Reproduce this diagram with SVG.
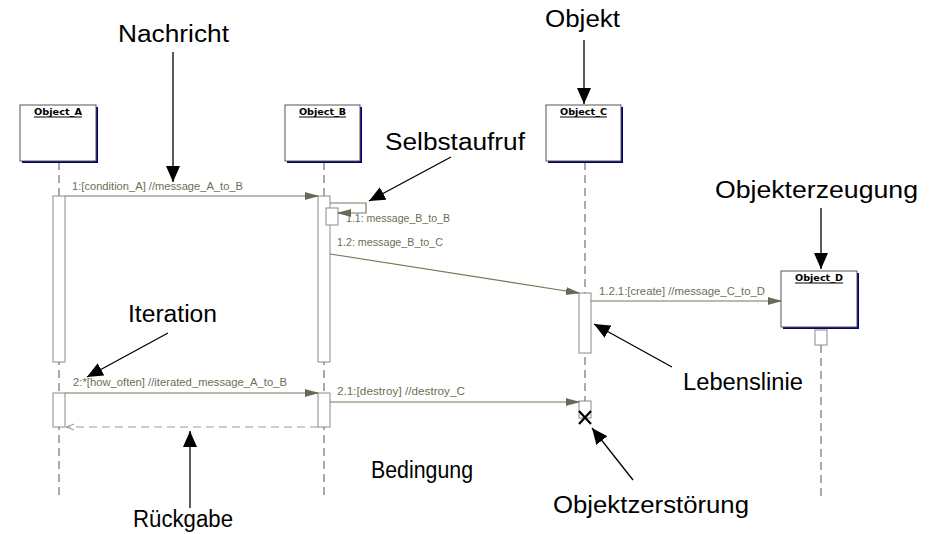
<svg xmlns="http://www.w3.org/2000/svg" width="939" height="534" viewBox="0 0 939 534">
<defs>
<style>
.ann{font-family:"Liberation Sans",Arial,sans-serif;font-size:23px;fill:#000}
.lbl{font-family:"Liberation Sans",Arial,sans-serif;font-size:10px;fill:#6e6e55}
.oname{font-family:"DejaVu Sans",sans-serif;font-size:8px;font-weight:bold;fill:#000}
.uline{stroke:#000;stroke-width:1}
.obox{fill:#fff;stroke:#555;stroke-width:1}
.shadow{fill:#000070}
.life{stroke:#555;stroke-width:1;stroke-dasharray:8 5;fill:none}
.bar{fill:#fff;stroke:#8a8a8a;stroke-width:1}
.msg{stroke:#77775a;stroke-width:1.2;fill:none}
.ret{stroke:#999;stroke-width:1.2;stroke-dasharray:8 5;fill:none}
.aline{stroke:#000;stroke-width:1.3;fill:none}
</style>
<marker id="bigArrow" viewBox="0 0 16 14" refX="16" refY="7" markerWidth="16" markerHeight="14" markerUnits="userSpaceOnUse" orient="auto">
<path d="M0,0 L16,7 L0,14 Z" fill="#000"/>
</marker>
<marker id="msgArrow" viewBox="0 0 13 8" refX="13" refY="4" markerWidth="13" markerHeight="8" markerUnits="userSpaceOnUse" orient="auto">
<path d="M0,0.5 L13,4 L0,7.5 Z" fill="#6a6a5a" stroke="#55553f" stroke-width="0.6"/>
</marker>
<marker id="openArrow" viewBox="0 0 8 8" refX="8" refY="4" markerWidth="8" markerHeight="8" markerUnits="userSpaceOnUse" orient="auto">
<path d="M0,1 L8,4 L0,7" fill="none" stroke="#999" stroke-width="1"/>
</marker>
</defs>
<rect width="939" height="534" fill="#fff"/>

<g id="lifelines">
<line class="life" x1="59" y1="162" x2="59" y2="498"/>
<line class="life" x1="324" y1="162" x2="324" y2="498"/>
<line class="life" x1="585" y1="162" x2="585" y2="401"/>
<line class="life" x1="821" y1="345" x2="821" y2="498"/>
</g>

<g id="Object_A">
<rect class="shadow" x="22" y="107" width="76" height="56"/>
<rect class="obox" x="20" y="105" width="76" height="56"/>
<text class="oname" x="34" y="115" textLength="48" lengthAdjust="spacingAndGlyphs">Object_A</text>
<line class="uline" x1="34" y1="117" x2="82" y2="117"/>
</g>
<g id="Object_B">
<rect class="shadow" x="287" y="107" width="75" height="56"/>
<rect class="obox" x="285" y="105" width="75" height="56"/>
<text class="oname" x="299" y="115" textLength="47" lengthAdjust="spacingAndGlyphs">Object_B</text>
<line class="uline" x1="299" y1="117" x2="346" y2="117"/>
</g>
<g id="Object_C">
<rect class="shadow" x="548" y="107" width="75" height="56"/>
<rect class="obox" x="546" y="105" width="75" height="56"/>
<text class="oname" x="560" y="115" textLength="47" lengthAdjust="spacingAndGlyphs">Object_C</text>
<line class="uline" x1="560" y1="117" x2="607" y2="117"/>
</g>
<g id="Object_D">
<rect class="shadow" x="783" y="273" width="76" height="56"/>
<rect class="obox" x="781" y="271" width="76" height="56"/>
<text class="oname" x="795" y="281" textLength="48" lengthAdjust="spacingAndGlyphs">Object_D</text>
<line class="uline" x1="795" y1="283" x2="843" y2="283"/>
<rect class="bar" x="815" y="330" width="12" height="15"/>
</g>

<g id="activations">
<rect class="bar" x="53" y="196" width="12" height="166"/>
<rect class="bar" x="318" y="196" width="12" height="166"/>
<rect class="bar" x="326" y="208" width="12" height="17"/>
<rect class="bar" x="579" y="293" width="12" height="60"/>
<rect class="bar" x="53" y="393" width="12" height="34"/>
<rect class="bar" x="318" y="393" width="12" height="34"/>
<rect class="bar" x="579" y="401" width="12" height="17"/>
</g>

<g id="connectors">
<line class="msg" x1="65" y1="196" x2="318" y2="196" marker-end="url(#msgArrow)"/>
<path class="msg" d="M330,203 H366 V213 H338" stroke="#a5a590" marker-end="url(#msgArrow)"/>
<line class="msg" x1="330" y1="254" x2="579" y2="293" marker-end="url(#msgArrow)"/>
<line class="msg" x1="591" y1="301" x2="781" y2="301" marker-end="url(#msgArrow)"/>
<line class="msg" x1="65" y1="393" x2="318" y2="393" stroke="#a5a590" marker-end="url(#msgArrow)"/>
<line class="msg" x1="330" y1="402" x2="579" y2="402" marker-end="url(#msgArrow)"/>
<line class="ret" x1="318" y1="427" x2="66" y2="427" marker-end="url(#openArrow)"/>
<path d="M579,411 L591,424 M591,411 L579,424" stroke="#000" stroke-width="2.2" fill="none"/>
</g>

<g id="message-labels">
<text class="lbl" x="72" y="190" textLength="171" lengthAdjust="spacingAndGlyphs">1:[condition_A] //message_A_to_B</text>
<text class="lbl" x="346" y="222" textLength="104" lengthAdjust="spacingAndGlyphs">1.1: message_B_to_B</text>
<text class="lbl" x="337" y="246" textLength="106" lengthAdjust="spacingAndGlyphs">1.2: message_B_to_C</text>
<text class="lbl" x="599" y="295" textLength="166" lengthAdjust="spacingAndGlyphs">1.2.1:[create] //message_C_to_D</text>
<text class="lbl" x="73" y="386" textLength="214" lengthAdjust="spacingAndGlyphs">2:*[how_often] //iterated_message_A_to_B</text>
<text class="lbl" x="337" y="395" textLength="128" lengthAdjust="spacingAndGlyphs">2.1:[destroy] //destroy_C</text>
</g>

<g id="annotations">
<text class="ann" x="118" y="42" textLength="111" lengthAdjust="spacingAndGlyphs">Nachricht</text>
<line class="aline" x1="173" y1="52" x2="173" y2="182" marker-end="url(#bigArrow)"/>
<text class="ann" x="545" y="27" textLength="75" lengthAdjust="spacingAndGlyphs">Objekt</text>
<line class="aline" x1="584" y1="40" x2="584" y2="104" marker-end="url(#bigArrow)"/>
<text class="ann" x="385" y="150" textLength="140" lengthAdjust="spacingAndGlyphs">Selbstaufruf</text>
<line class="aline" x1="451" y1="157" x2="369" y2="201" marker-end="url(#bigArrow)"/>
<text class="ann" x="715" y="198" textLength="203" lengthAdjust="spacingAndGlyphs">Objekterzeugung</text>
<line class="aline" x1="821" y1="208" x2="821" y2="269" marker-end="url(#bigArrow)"/>
<text class="ann" x="128" y="322" textLength="89" lengthAdjust="spacingAndGlyphs">Iteration</text>
<line class="aline" x1="168" y1="333" x2="87" y2="377" marker-end="url(#bigArrow)"/>
<text class="ann" x="683" y="390" textLength="120" lengthAdjust="spacingAndGlyphs">Lebenslinie</text>
<line class="aline" x1="672" y1="367" x2="594" y2="324" marker-end="url(#bigArrow)"/>
<text class="ann" x="371" y="478" textLength="102" lengthAdjust="spacingAndGlyphs">Bedingung</text>
<text class="ann" x="553" y="513" textLength="196" lengthAdjust="spacingAndGlyphs">Objektzerstörung</text>
<line class="aline" x1="633" y1="480" x2="592" y2="428" marker-end="url(#bigArrow)"/>
<text class="ann" x="133" y="527" textLength="100" lengthAdjust="spacingAndGlyphs">Rückgabe</text>
<line class="aline" x1="190" y1="508" x2="190" y2="431" marker-end="url(#bigArrow)"/>
</g>
</svg>
